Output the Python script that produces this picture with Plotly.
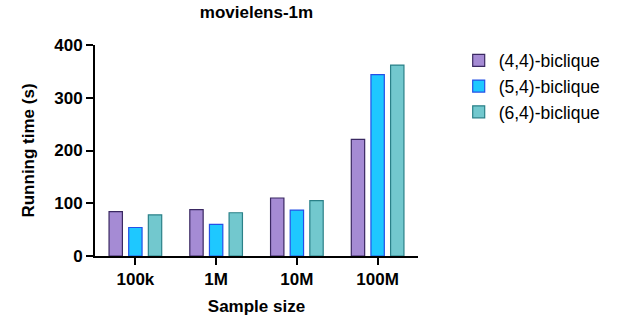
import plotly.graph_objects as go

categories = ["100k", "1M", "10M", "100M"]
series_names = ["(4,4)-biclique", "(5,4)-biclique", "(6,4)-biclique"]
vals_44 = [84, 88, 110, 221]
vals_54 = [54, 60, 87, 344]
vals_64 = [78, 82, 105, 362]
y_ticks = [0, 100, 200, 300, 400]

fills = ["#A58BD4", "#1EC8FF", "#72C8CE"]
lines = ["#3A2862", "#2450E6", "#2A8088"]

FONT = "Liberation Sans, Arial, Helvetica, sans-serif"
W, H = 621, 320
L, R, T, B = 95, 203, 45, 64

fig = go.Figure()
for name, vals, fc, lc in zip(series_names, [vals_44, vals_54, vals_64], fills, lines):
    fig.add_trace(go.Bar(
        x=categories, y=vals, name=name, legendgroup=name,
        marker=dict(color=fc, line=dict(color=lc, width=1.2)),
    ))

bold = dict(family=FONT, color="black", size=17, weight="bold")

fig.update_layout(
    width=W, height=H,
    margin=dict(l=L, r=R, t=T, b=B, autoexpand=False),
    paper_bgcolor="white", plot_bgcolor="white",
    barmode="group", bargap=0.27, bargroupgap=0.32,
    font=dict(family=FONT, color="black", size=17),
    title=dict(text="movielens-1m", x=(L + W - R) / 2 / W, xanchor="center",
               y=1 - 12 / H, yanchor="middle", font=bold),
    showlegend=True,
    legend=dict(x=1.126, xanchor="left", y=1.012, yanchor="top",
                font=dict(family=FONT, color="black", size=17.5), tracegroupgap=11,
                traceorder="normal"),
)
fig.update_xaxes(
    automargin=False,
    showline=True, linecolor="black", linewidth=2,
    ticks="outside", ticklen=7, tickwidth=2, tickcolor="black",
    tickfont=bold,
    title=dict(text="Sample size", font=bold, standoff=12),
    showgrid=False, zeroline=False,
)
fig.update_yaxes(
    automargin=False,
    range=[0, 400], tickvals=y_ticks,
    showline=True, linecolor="black", linewidth=2,
    ticks="outside", ticklen=7, tickwidth=2, tickcolor="black",
    tickfont=bold,
    title=dict(text="Running time (s)", font=bold, standoff=15),
    showgrid=False, zeroline=False,
)

fig.write_html("out.html", config={"displayModeBar": False},
               post_script="document.body.style.margin='0';")
